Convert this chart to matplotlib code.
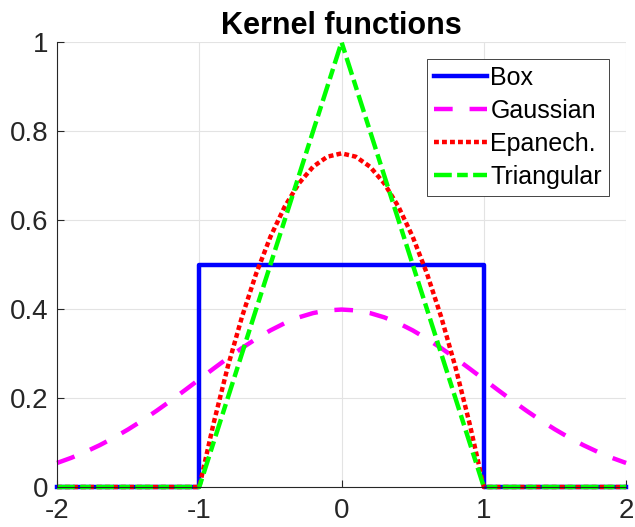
"""Kernel functions: box, gaussian, epanechnikov, triangular."""

import matplotlib
matplotlib.use("Agg")
import matplotlib.pyplot as plt

plt.rcParams["font.family"] = ["Liberation Sans", "DejaVu Sans"]

# sampled kernel curves
x_gauss = [-2.0, -1.9, -1.8, -1.7, -1.6, -1.5, -1.4, -1.3, -1.2, -1.1, -1.0,
           -0.9, -0.8, -0.7, -0.6, -0.5, -0.4, -0.3, -0.2, -0.1, 0.0,
           0.1, 0.2, 0.3, 0.4, 0.5, 0.6, 0.7, 0.8, 0.9, 1.0,
           1.1, 1.2, 1.3, 1.4, 1.5, 1.6, 1.7, 1.8, 1.9, 2.0]
y_gauss = [0.0540, 0.0656, 0.0790, 0.0940, 0.1109, 0.1295, 0.1497, 0.1714, 0.1942, 0.2179, 0.2420,
           0.2661, 0.2897, 0.3123, 0.3332, 0.3521, 0.3683, 0.3814, 0.3910, 0.3970, 0.3989,
           0.3970, 0.3910, 0.3814, 0.3683, 0.3521, 0.3332, 0.3123, 0.2897, 0.2661, 0.2420,
           0.2179, 0.1942, 0.1714, 0.1497, 0.1295, 0.1109, 0.0940, 0.0790, 0.0656, 0.0540]

x_epan = [-2.0, -1.0, -0.9, -0.8, -0.7, -0.6, -0.5, -0.4, -0.3, -0.2, -0.1, 0.0,
          0.1, 0.2, 0.3, 0.4, 0.5, 0.6, 0.7, 0.8, 0.9, 1.0, 2.0]
y_epan = [0.0, 0.0, 0.1425, 0.27, 0.3825, 0.48, 0.5625, 0.63, 0.6825, 0.72, 0.7425, 0.75,
          0.7425, 0.72, 0.6825, 0.63, 0.5625, 0.48, 0.3825, 0.27, 0.1425, 0.0, 0.0]

x_box = [-2.0, -1.0, -1.0, 1.0, 1.0, 2.0]
y_box = [0.0, 0.0, 0.5, 0.5, 0.0, 0.0]

x_tri = [-2.0, -1.0, 0.0, 1.0, 2.0]
y_tri = [0.0, 0.0, 1.0, 0.0, 0.0]

labels = ["Box", "Gaussian", "Epanech.", "Triangular"]
x_ticks = [-2, -1, 0, 1, 2]
y_ticks = [0, 0.2, 0.4, 0.6, 0.8, 1]
y_ticklabels = ["0", "0.2", "0.4", "0.6", "0.8", "1"]

fig = plt.figure(figsize=(6.35, 5.27), dpi=100)
ax = fig.add_axes([0.0898, 0.0759, 0.8962, 0.8441])

lw = 3.2
ax.plot(x_box, y_box, color=(0, 0, 1), lw=lw, label=labels[0], clip_on=False)
ax.plot(x_gauss, y_gauss, color=(1, 0, 1), lw=lw, dashes=(4.2, 3.8), dash_capstyle="butt",
        label=labels[1], clip_on=False)
ax.plot(x_epan, y_epan, color=(1, 0, 0), lw=lw, dashes=(1.1, 0.7), dash_capstyle="butt",
        label=labels[2], clip_on=False)
ax.plot(x_tri, y_tri, color=(0, 1, 0), lw=lw, dashes=(4, 1.2, 2.4, 1.2), dash_capstyle="butt",
        label=labels[3], clip_on=False)

ax.set_xlim(-2, 2)
ax.set_ylim(0, 1)
ax.set_xticks(x_ticks)
ax.set_xticklabels([str(v) for v in x_ticks])
ax.set_yticks(y_ticks)
ax.set_yticklabels(y_ticklabels)

ax.grid(True, color="#e3e3e3", lw=0.8)
ax.set_axisbelow(True)
for side in ("top", "right"):
    ax.spines[side].set_visible(False)
for side in ("left", "bottom"):
    ax.spines[side].set_color("#262626")
    ax.spines[side].set_linewidth(0.8)
ax.tick_params(direction="in", length=5, width=0.8, colors="#262626", labelsize=20)
ax.tick_params(axis="y", pad=6)
ax.tick_params(axis="x", pad=8)

ax.set_title("Kernel functions", fontsize=22, fontweight="bold", pad=6)

leg = ax.legend(loc="upper right", bbox_to_anchor=(0.97, 0.962), borderaxespad=0,
                fontsize=18, handlelength=2.1, handletextpad=0.15, labelspacing=0.36,
                borderpad=0.28, fancybox=False, framealpha=1)
leg.get_frame().set_edgecolor("#262626")
leg.get_frame().set_linewidth(0.6)

fig.savefig("out.png", dpi=100)
plt.close(fig)
